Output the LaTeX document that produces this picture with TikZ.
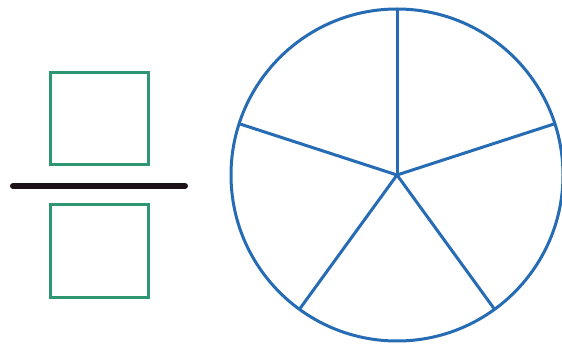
\documentclass[tikz,border=0pt]{standalone}
\begin{document}
\begin{tikzpicture}[x=1pt,y=-1pt,
  boxsq/.style={draw=sqgreen,line width=3pt},
  pie/.style={draw=pieblue,line width=3pt}]
\definecolor{sqgreen}{RGB}{46,150,112}
\definecolor{pieblue}{RGB}{38,108,180}
\definecolor{barcol}{RGB}{30,18,24}
\useasboundingbox (0,0) rectangle (562,344);
\fill[white] (0,0) rectangle (562,344);
\draw[boxsq] (50,73) rectangle (148,165);
\draw[boxsq] (50,205) rectangle (148,298);
\draw[draw=barcol,line width=6pt,line cap=round] (13,186) -- (185,186);
\coordinate (c) at (397,175);
\draw[pie] (c) circle (166);
\foreach \a in {-90,-18,-162,126,54}{
  \draw[pie] (c) -- ++(\a:166);
}
\end{tikzpicture}
\end{document}
